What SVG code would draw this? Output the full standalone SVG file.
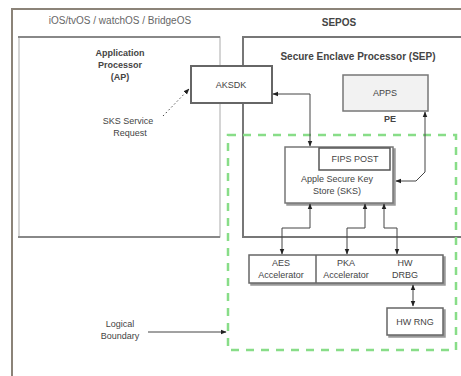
<svg xmlns="http://www.w3.org/2000/svg" width="461" height="376" viewBox="0 0 461 376">
<style>
text{font-family:"Liberation Sans",Arial,sans-serif;font-size:9px;fill:#444;text-anchor:middle}
.b{font-weight:bold}
.box{fill:#fff;stroke:#777;stroke-width:1.5}
.ln{fill:none;stroke:#444;stroke-width:1}
</style>
<defs>
<marker id="ah" viewBox="0 0 10 10" refX="9" refY="5" markerWidth="6" markerHeight="6" orient="auto-start-reverse"><path d="M0,1 L10,5 L0,9 z" fill="#222"/></marker>
<filter id="sh" x="-10%" y="-10%" width="130%" height="130%"><feDropShadow dx="2" dy="2" stdDeviation="0.5" flood-color="#999"/></filter>
</defs>
<rect width="461" height="376" fill="#fff"/>
<rect x="12" y="9" width="460" height="380" fill="none" stroke="#8b8378" stroke-width="2"/>
<g id="ap">
<text x="120" y="24" style="font-size:10px;fill:#666">iOS/tvOS / watchOS / BridgeOS</text>
<rect x="19" y="37" width="201" height="200" fill="#fff" stroke="#aaa" stroke-width="1"/>
<line x1="18" y1="37" x2="220" y2="37" stroke="#888" stroke-width="2"/>
<line x1="18" y1="237" x2="220" y2="237" stroke="#888" stroke-width="2"/>
<text class="b" x="120" y="56">Application</text>
<text class="b" x="120" y="68">Processor</text>
<text class="b" x="120" y="80">(AP)</text>
<text x="128" y="124">SKS Service</text>
<text x="130" y="136">Request</text>
</g>
<g id="sepos">
<text class="b" x="339" y="26" style="font-size:10px">SEPOS</text>
<rect x="243" y="37" width="230" height="200" fill="#fff" stroke="#777" stroke-width="2"/>
<text class="b" x="358" y="60" style="font-size:10px">Secure Enclave Processor (SEP)</text>
</g>
<g id="aksdk">
<rect x="191" y="66" width="81" height="37" fill="#fff" stroke="#666" stroke-width="2"/>
<text x="231" y="88">AKSDK</text>
</g>
<g id="apps">
<rect x="343" y="75" width="85" height="36" fill="#f2f2f2" stroke="#777" stroke-width="1.5"/>
<text x="385" y="96">APPS</text>
<text class="b" x="390" y="122">PE</text>
</g>
<g id="boundary">
<rect x="228" y="135" width="228" height="215" fill="none" stroke="#88dd88" stroke-width="2.5" stroke-dasharray="8,7"/>
<text x="120" y="327">Logical</text>
<text x="120" y="339">Boundary</text>
</g>
<g id="sks">
<rect x="285" y="147" width="108" height="56" class="box" filter="url(#sh)" stroke="#555"/>
<rect x="319" y="148" width="71" height="22" fill="#fff" stroke="#555" stroke-width="1.5"/>
<text x="355" y="162">FIPS POST</text>
<text x="337" y="182">Apple Secure Key</text>
<text x="337" y="194">Store (SKS)</text>
</g>
<g id="accel">
<rect x="249" y="255" width="194" height="28" fill="#fff" stroke="#666" stroke-width="1.5" filter="url(#sh)"/>
<line x1="316" y1="255" x2="316" y2="283" stroke="#666" stroke-width="1.5"/>
<text x="281" y="266">AES</text>
<text x="281" y="278">Accelerator</text>
<text x="346" y="266">PKA</text>
<text x="346" y="278">Accelerator</text>
<text x="405" y="266">HW</text>
<text x="405" y="278">DRBG</text>
</g>
<g id="rng">
<rect x="387" y="308" width="56" height="27" fill="#fff" stroke="#666" stroke-width="1.5" filter="url(#sh)"/>
<text x="415" y="325">HW RNG</text>
</g>
<g id="connectors" class="ln">
<path class="ln" d="M163,116 L189,89" stroke-dasharray="1.5,2.5" marker-end="url(#ah)"/>
<path class="ln" d="M310,146 L310,94 L273,94" marker-start="url(#ah)" marker-end="url(#ah)"/>
<path class="ln" d="M396,181 L416,181 L425,172 L425,112" marker-start="url(#ah)" marker-end="url(#ah)"/>
<path class="ln" d="M310,204 L310,228 L282,228 L282,254" marker-start="url(#ah)" marker-end="url(#ah)"/>
<path class="ln" d="M365,204 L365,228 L347,228 L347,254" marker-start="url(#ah)" marker-end="url(#ah)"/>
<path class="ln" d="M384,204 L384,228 L397,228 L397,254" marker-start="url(#ah)" marker-end="url(#ah)"/>
<path class="ln" d="M413,285 L413,306" marker-start="url(#ah)" marker-end="url(#ah)"/>
<path class="ln" d="M148,332 L226,332" marker-end="url(#ah)"/>
</g>
</svg>
